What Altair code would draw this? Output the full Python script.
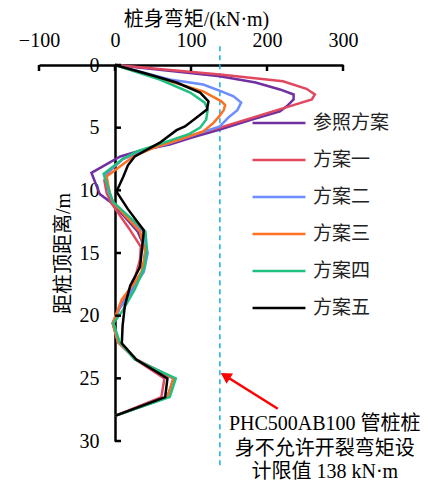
import altair as alt
import pandas as pd

FONT = "'Liberation Serif', 'Times New Roman', 'Noto Sans CJK SC', serif"

series_names = ["参照方案", "方案一", "方案二", "方案三", "方案四", "方案五"]
series_colors = ["#7030A0", "#E04860", "#6C8CFF", "#FF7020", "#20C080", "#000000"]

x_ticks = [-100, 0, 100, 200, 300]
y_ticks = [0, 5, 10, 15, 20, 25, 30]

ref_depth = [0, 0.5, 0.9, 1.4, 1.95, 2.35, 2.75, 3.3, 3.7, 4.4, 5.15, 5.8, 6.35, 6.8, 7.3, 8.6, 10.3, 11.1, 13.3, 14.7, 16.5, 18.0, 19.5, 20.6, 22.1, 23.5, 25.0, 26.5, 28.0]
ref_moment = [0, 77, 138, 185, 217, 235, 235, 226, 217, 178, 138, 100, 72, 35, 7, -31, -20, -2, 30, 40, 37, 22, 5, -3, 4, 28, 77, 69, 0]

s1_depth = [0, 0.76, 1.3, 1.9, 2.35, 2.75, 3.4, 4.2, 5.0, 5.4, 6.3, 6.8, 7.5, 8.5, 9.2, 10.2, 11.0, 13.0, 14.5, 15.5, 17.5, 19.5, 20.6, 22.1, 23.5, 25.0, 26.5, 28.0]
s1_moment = [0, 138, 221, 252, 263, 259, 224, 181, 138, 112, 68, 38, 10, -8, -14, -11, -5, 18, 34, 33, 24, 5, -2, 4, 27, 65, 61, 0]

s2_depth = [0, 1.16, 1.56, 2.1, 2.5, 3.0, 3.6, 4.2, 4.9, 5.5, 6.3, 6.8, 7.5, 8.7, 10.2, 11.0, 13.3, 15.0, 16.5, 18.0, 19.5, 20.6, 22.1, 23.5, 25.0, 26.5, 28.0]
s2_moment = [0, 72, 116, 140, 156, 166, 161, 149, 138, 108, 68, 37, 10, -12, -8, -2, 37, 43, 38, 22, 5, -3, 4, 28, 78, 70, 0]

s3_depth = [0, 1.3, 2.1, 2.9, 3.2, 3.6, 4.1, 4.6, 5.3, 5.95, 6.5, 7.3, 8.9, 10.2, 11.0, 13.3, 15.0, 16.5, 17.5, 18.7, 20.6, 22.1, 23.5, 25.0, 26.5, 28.0]
s3_moment = [0, 72, 116, 140, 145, 143, 137, 130, 116, 85, 55, 24, -11, -7, -2, 33, 40, 35, 24, 9, -3, 4, 28, 77, 69, 0]

s4_depth = [0, 1.16, 2.2, 3.0, 3.55, 4.35, 5.0, 5.5, 5.95, 6.9, 7.5, 8.7, 9.8, 10.9, 13.3, 14.7, 16.1, 17.9, 19.5, 20.6, 22.1, 23.5, 25.0, 26.5, 28.0]
s4_moment = [0, 59, 99, 118, 122, 120, 112, 98, 76, 29, 10, -15, -9, -3, 40, 42, 39, 26, 11, -2, 6, 26, 80, 72, 0]

s5_depth = [0, 0.62, 1.4, 2.2, 2.9, 3.55, 4.2, 4.9, 5.2, 6.2, 7.3, 8.0, 8.9, 10.1, 11.5, 13.2, 16.1, 17.6, 19.2, 20.8, 22.2, 23.5, 25.0, 26.5, 28.0]
s5_moment = [0, 37, 81, 112, 123, 121, 107, 92, 81, 59, 26, 17, 11, 2, 17, 38, 33, 20, 13, 10, 9, 28, 69, 66, 0]

all_depths = [ref_depth, s1_depth, s2_depth, s3_depth, s4_depth, s5_depth]
all_moments = [ref_moment, s1_moment, s2_moment, s3_moment, s4_moment, s5_moment]

rows = []
for name, ds, ms in zip(series_names, all_depths, all_moments):
    for i, (d, m) in enumerate(zip(ds, ms)):
        rows.append({"series": name, "depth": d, "moment": m, "i": i})
df = pd.DataFrame(rows)

limit_value = 138
ann_lines = ["PHC500AB100 管桩桩", "身不允许开裂弯矩设", "计限值 138 kN·m"]
ann_line_y = [28.65, 30.6, 32.5]

lines = alt.Chart(df).mark_line(strokeWidth=2.5).encode(
    x=alt.X("moment:Q",
            scale=alt.Scale(domain=[-100, 300], nice=False, zero=False),
            axis=alt.Axis(orient="top", values=x_ticks, ticks=False, tickSize=0,
                          domainWidth=2.5, domainColor="black", grid=False,
                          labelFlush=False, labelOverlap=False,
                          labelFont=FONT, labelFontSize=20, labelColor="black",
                          labelPadding=15, title="桩身弯矩/(kN·m)", titleFont=FONT,
                          titleFontSize=20, titleFontWeight="normal", titleColor="black",
                          titlePadding=1, titleX=157, titleAlign="center")),
    y=alt.Y("depth:Q",
            scale=alt.Scale(domain=[0, 30], reverse=True, nice=False, zero=False),
            axis=alt.Axis(orient="left", offset=-76, values=y_ticks, ticks=False, tickSize=0,
                          domainWidth=2.5, domainColor="black", grid=False,
                          labelFlush=False, labelOverlap=False,
                          labelFont=FONT, labelFontSize=20, labelColor="black",
                          labelPadding=16, title="距桩顶距离/m", titleFont=FONT,
                          titleFontSize=20, titleFontWeight="normal", titleColor="black",
                          titlePadding=6)),
    color=alt.Color("series:N",
                    scale=alt.Scale(domain=series_names, range=series_colors),
                    legend=alt.Legend(orient="none", legendX=212, legendY=49, title=None,
                                      symbolType="stroke", symbolSize=2800,
                                      symbolStrokeWidth=2.5, clipHeight=18, rowPadding=18,
                                      labelFont=FONT, labelFontSize=19, labelColor="#222",
                                      labelOffset=6, padding=0)),
    order=alt.Order("i:Q"),
)

xt = alt.Chart(pd.DataFrame({"v": x_ticks})).mark_tick(
    orient="vertical", size=6, thickness=2.5, yOffset=3, color="black", opacity=1
).encode(x="v:Q", y=alt.datum(0))

yt = alt.Chart(pd.DataFrame({"v": y_ticks})).mark_tick(
    orient="horizontal", size=6, thickness=2.5, xOffset=3, color="black", opacity=1
).encode(y="v:Q", x=alt.datum(0))

limit = alt.Chart().mark_rule(color="#10AEEA", strokeDash=[5, 4], strokeWidth=1.5).encode(
    x=alt.datum(limit_value), y=alt.datum(-1.5), y2=alt.datum(32.1))

arrow = alt.Chart().mark_rule(color="#FF0000", strokeWidth=2.5).encode(
    x=alt.datum(214.2), y=alt.datum(27.43), x2=alt.datum(147.1), y2=alt.datum(24.87))

head = alt.Chart().mark_point(shape="triangle", filled=True, size=150, angle=302,
                              color="#FF0000", opacity=1).encode(
    x=alt.datum(147.1), y=alt.datum(24.87))

ann_layers = [
    alt.Chart().mark_text(align="center", baseline="middle", fontSize=20, font=FONT,
                          color="black").encode(
        x=alt.datum(276), y=alt.datum(yv), text=alt.value(t))
    for t, yv in zip(ann_lines, ann_line_y)
]

chart = alt.layer(limit, lines, xt, yt, arrow, head, *ann_layers).properties(
    width=304, height=376,
    padding={"left": 31, "top": 57, "right": 79, "bottom": 42},
    autosize=alt.AutoSizeParams(type="none"),
).configure_view(stroke=None)

chart.save("out.html", embed_options={"renderer": "svg", "actions": False})
